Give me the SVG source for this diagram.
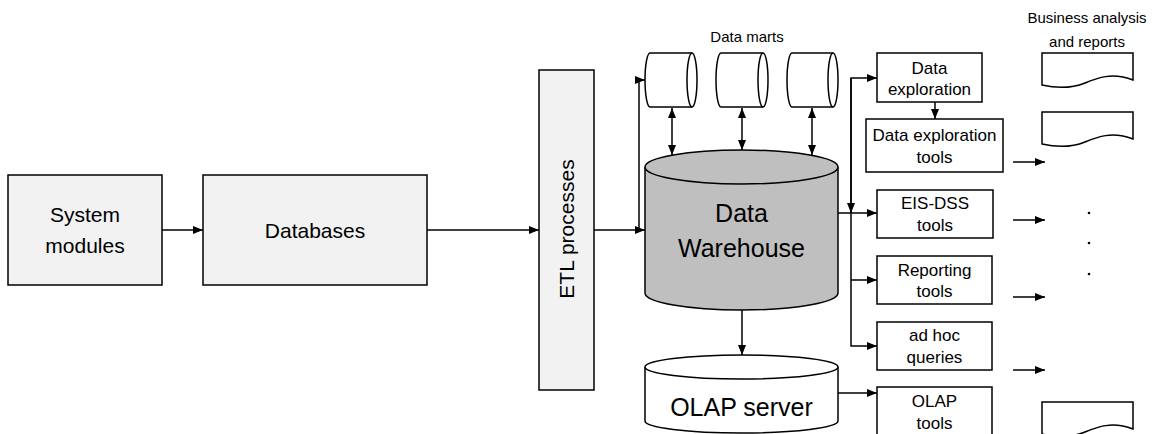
<svg xmlns="http://www.w3.org/2000/svg" width="1152" height="434" viewBox="0 0 1152 434">
<defs>
<marker id="ah" viewBox="0 0 10 8" refX="10" refY="4" markerWidth="10" markerHeight="8" markerUnits="userSpaceOnUse" orient="auto-start-reverse">
<path d="M0,0 L10,4 L0,8 Z" fill="#000"/>
</marker>
<style>
.box{fill:#f2f2f2;stroke:#000;stroke-width:1.5}
.wbox{fill:#fff;stroke:#000;stroke-width:1.5}
.cyl{fill:#fff;stroke:#000;stroke-width:1.5}
.dw{fill:#bfbfbf;stroke:#000;stroke-width:1.5}
.ln{fill:none;stroke:#000;stroke-width:1.5}
.arr{fill:none;stroke:#000;stroke-width:1.5;marker-end:url(#ah)}
.darr{fill:none;stroke:#000;stroke-width:1.5;marker-start:url(#ah);marker-end:url(#ah)}
text{font-family:"Liberation Sans",Arial,sans-serif;fill:#000;text-anchor:middle}
.big{font-size:21px}
.dwt{font-size:25px}
.sm{font-size:17px}
.lab{font-size:15px}
</style>
</defs>

<g id="connectors">
<path class="arr" d="M162,230 H203"/>
<path class="arr" d="M427,230 H539"/>
<path class="arr" d="M594,230 H645"/>
<path class="arr" d="M639,230 V80 H645"/>
<path class="darr" d="M672,108 V155"/>
<path class="darr" d="M742,108 V150"/>
<path class="darr" d="M812,108 V155"/>
<path class="arr" d="M742,310 V355"/>
<path class="arr" d="M851,213 V78 H877"/>
<path class="arr" d="M851,78 V213"/>
<path class="arr" d="M838,213 H877"/>
<path class="arr" d="M851,213 V346 H877"/>
<path class="arr" d="M851,280 H877"/>
<path class="arr" d="M935,102 V119"/>
<path class="arr" d="M838,393 H877"/>
<path class="arr" d="M1013,162 H1045"/>
<path class="arr" d="M1013,220 H1045"/>
<path class="arr" d="M1013,297 H1045"/>
<path class="arr" d="M1013,370 H1045"/>
</g>

<g id="system-modules">
<rect class="box" x="8" y="175" width="154" height="110"/>
<text class="big" x="85" y="222">System</text>
<text class="big" x="85" y="253">modules</text>
</g>

<g id="databases">
<rect class="box" x="203" y="175" width="224" height="110"/>
<text class="big" x="315" y="238">Databases</text>
</g>

<g id="etl">
<rect class="box" x="539" y="70" width="55" height="320"/>
<text class="big" transform="translate(574,229) rotate(-90)" x="0" y="0">ETL processes</text>
</g>

<g id="data-marts">
<text class="lab" x="747" y="42">Data marts</text>
<path class="cyl" d="M650,53 H692 A5,27 0 0 1 692,107 H650 A5,27 0 0 1 650,53 Z"/>
<path class="ln" d="M692,53 A5,27 0 0 0 692,107"/>
<path class="cyl" d="M721,53 H763 A5,27 0 0 1 763,107 H721 A5,27 0 0 1 721,53 Z"/>
<path class="ln" d="M763,53 A5,27 0 0 0 763,107"/>
<path class="cyl" d="M792,53 H833 A5,27 0 0 1 833,107 H792 A5,27 0 0 1 792,53 Z"/>
<path class="ln" d="M833,53 A5,27 0 0 0 833,107"/>
</g>

<g id="data-warehouse">
<path class="dw" d="M645,167 V293 A96.5,17 0 0 0 838,293 V167"/>
<ellipse class="dw" cx="741.5" cy="167" rx="96.5" ry="17"/>
<text class="dwt" x="741.5" y="222">Data</text>
<text class="dwt" x="741.5" y="257">Warehouse</text>
</g>

<g id="olap-server">
<path class="cyl" d="M645,367 V421 A96.5,12 0 0 0 838,421 V367"/>
<ellipse class="cyl" cx="741.5" cy="367" rx="96.5" ry="12"/>
<text class="dwt" x="741.5" y="416">OLAP server</text>
</g>

<g id="data-exploration">
<rect class="wbox" x="877" y="53" width="105" height="49"/>
<text class="sm" x="929.5" y="74">Data</text>
<text class="sm" x="929.5" y="95">exploration</text>
</g>

<g id="data-exploration-tools">
<rect class="wbox" x="866" y="119" width="137" height="53"/>
<text class="sm" x="934.5" y="141">Data exploration</text>
<text class="sm" x="934.5" y="163">tools</text>
</g>

<g id="eis-dss">
<rect class="wbox" x="877" y="190" width="116" height="48"/>
<text class="sm" x="935" y="209">EIS-DSS</text>
<text class="sm" x="935" y="231">tools</text>
</g>

<g id="reporting">
<rect class="wbox" x="877" y="256" width="115" height="48"/>
<text class="sm" x="934.5" y="276">Reporting</text>
<text class="sm" x="934.5" y="297">tools</text>
</g>

<g id="adhoc">
<rect class="wbox" x="877" y="322" width="115" height="48"/>
<text class="sm" x="934.5" y="341">ad hoc</text>
<text class="sm" x="934.5" y="363">queries</text>
</g>

<g id="olap-tools">
<rect class="wbox" x="877" y="387" width="115" height="55"/>
<text class="sm" x="934.5" y="407">OLAP</text>
<text class="sm" x="934.5" y="429">tools</text>
</g>

<g id="reports">
<text class="lab" x="1087" y="23">Business analysis</text>
<text class="lab" x="1087" y="47">and reports</text>
<path class="wbox" d="M1042,53 H1133 V80 C1112,72 1097,78 1085,83 C1070,89 1055,88 1042,85 Z"/>
<path class="wbox" d="M1042,112 H1133 V139 C1112,131 1097,137 1085,142 C1070,148 1055,147 1042,144 Z"/>
<path class="wbox" d="M1042,402 H1133 V429 C1112,421 1097,427 1085,432 C1070,438 1055,437 1042,434 Z"/>
<circle cx="1089" cy="213" r="1.3" fill="#000"/>
<circle cx="1089" cy="243" r="1.3" fill="#000"/>
<circle cx="1089" cy="274" r="1.3" fill="#000"/>
</g>
</svg>
